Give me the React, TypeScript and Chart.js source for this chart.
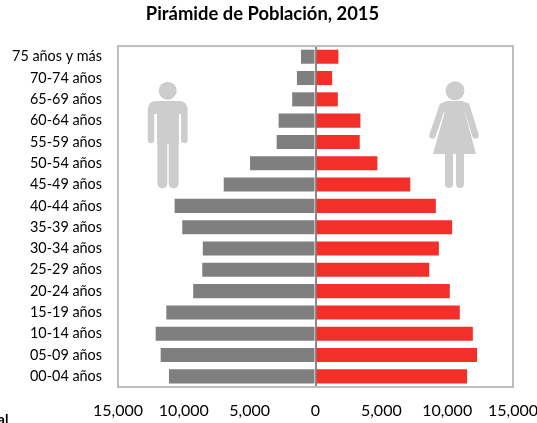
import React, { useEffect, useRef } from "react";
import { Chart, registerables } from "chart.js";

Chart.register(...registerables);

const categories = ["75 años y más","70-74 años","65-69 años","60-64 años","55-59 años","50-54 años","45-49 años","40-44 años","35-39 años","30-34 años","25-29 años","20-24 años","15-19 años","10-14 años","05-09 años","00-04 años"];
const hombres = [-1100,-1410,-1770,-2800,-2950,-4970,-6970,-10700,-10120,-8560,-8600,-9290,-11330,-12140,-11760,-11130];
const mujeres = [1740,1265,1695,3410,3360,4700,7200,9140,10380,9370,8640,10200,10960,11950,12270,11515];
const tickStep = 5000;
const axisMax = 15000;
const title = "Pirámide de Población, 2015";
const font = "Lato, 'Open Sans', sans-serif";

const iconPlugin = {
  id: "icons",
  beforeDatasetsDraw(chart: any) {
    const c = chart.ctx;
    c.save();
    c.fillStyle = "#cdcdcd";
    c.strokeStyle = "#cdcdcd";
    c.lineCap = "round";
    const limb = (x1: number, y1: number, x2: number, y2: number, w: number) => {
      c.lineWidth = w;
      c.beginPath(); c.moveTo(x1, y1); c.lineTo(x2, y2); c.stroke();
    };
    // man
    c.beginPath(); c.arc(167.7, 90.7, 9, 0, Math.PI * 2); c.fill();
    c.beginPath();
    c.moveTo(156, 101);
    c.lineTo(179, 101);
    c.quadraticCurveTo(187.5, 101, 187.5, 110);
    c.lineTo(181, 114);
    c.lineTo(154, 114);
    c.lineTo(148, 110);
    c.quadraticCurveTo(148, 101, 156, 101);
    c.closePath(); c.fill();
    c.fillRect(157, 108, 22, 36);
    limb(151, 110, 151, 140, 6.5);
    limb(184.3, 110, 184.3, 140, 6.5);
    limb(162.3, 140, 162.3, 183.5, 10);
    limb(173.7, 140, 173.7, 183.5, 10);
    // woman
    c.beginPath(); c.arc(455, 90.7, 9.5, 0, Math.PI * 2); c.fill();
    c.beginPath();
    c.moveTo(447, 101);
    c.lineTo(462, 101);
    c.quadraticCurveTo(467, 102, 469, 107);
    c.lineTo(465, 113);
    c.lineTo(476, 154);
    c.lineTo(433, 154);
    c.lineTo(444.5, 113);
    c.lineTo(440, 107);
    c.quadraticCurveTo(442, 102, 447, 101);
    c.closePath(); c.fill();
    limb(442.5, 106, 432.5, 135.5, 6.5);
    limb(466.5, 106, 475.5, 135.5, 6.5);
    limb(449, 150, 449, 184, 8);
    limb(460, 150, 460, 184, 8);
    c.restore();
  },
};

export default function App() {
  const ref = useRef<HTMLCanvasElement>(null);
  useEffect(() => {
    document.body.style.margin = "0";
    const chart = new Chart(ref.current!, {
      type: "bar",
      data: {
        labels: categories,
        datasets: [
          { label: "Hombres", data: hombres, backgroundColor: "#7f7f7f", stack: "a" },
          { label: "Mujeres", data: mujeres, backgroundColor: "#f32f2a", stack: "a" },
        ],
      },
      options: {
        indexAxis: "y",
        responsive: false,
        animation: false,
        layout: { padding: { left: 0, right: 12, top: 3, bottom: 0 } },
        datasets: { bar: { categoryPercentage: 1, barPercentage: 0.66 } },
        plugins: {
          legend: { display: false },
          tooltip: { enabled: false },
          title: {
            display: true,
            text: title,
            color: "#000",
            font: { family: font, size: 18.4, weight: "bold", lineHeight: 1.2 },
            padding: { top: 0, bottom: 21 },
          },
        },
        scales: {
          x: {
            min: -axisMax,
            max: axisMax,
            stacked: true,
            afterFit: (s: any) => { s.height = 36; s.paddingRight = 24; s.paddingLeft = 0; },
            grid: {
              display: true,
              drawOnChartArea: true,
              drawTicks: false,
              color: (ctx: any) => (ctx.tick && ctx.tick.value === 0 ? "#8a8a8a" : "transparent"),
              lineWidth: 2,
            },
            border: { display: false },
            ticks: {
              stepSize: tickStep,
              autoSkip: false,
              maxRotation: 0,
              padding: 14,
              color: "#000",
              font: { family: font, size: 16 },
              callback: (v: any) => Math.abs(Number(v)).toLocaleString("en-US"),
            },
          },
          y: {
            stacked: true,
            afterFit: (s: any) => { s.width = 118; },
            grid: { display: false, drawTicks: false },
            border: { display: false },
            ticks: {
              autoSkip: false,
              padding: 16,
              color: "#000",
              font: { family: font, size: 14.4 },
            },
          },
        },
      },
      plugins: [
        iconPlugin,
        {
          id: "frame",
          afterDraw(chart: any) {
            const { left, right, top, bottom } = chart.chartArea;
            const c = chart.ctx;
            c.save();
            c.strokeStyle = "#bdbdbd";
            c.lineWidth = 2;
            c.strokeRect(left, top, right - left, bottom - top);
            c.restore();
          },
        },
      ],
    } as any);
    return () => chart.destroy();
  }, []);
  return (
    <div style={{ position: "relative", width: 537, height: 423, overflow: "hidden" }}>
      <canvas ref={ref} width={537} height={423} style={{ display: "block" }} />
      <div style={{ position: "absolute", left: -22, top: 410, font: `bold 14px ${font}`, color: "#000" }}>Total</div>
    </div>
  );
}
